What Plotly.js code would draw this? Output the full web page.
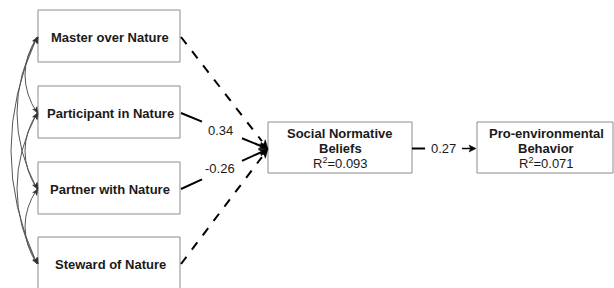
<!DOCTYPE html>
<html><head><meta charset="utf-8">
<script src="https://cdn.plot.ly/plotly-3.0.1.min.js"></script>
<style>html,body{margin:0;padding:0;background:#fff;}#chart{width:614px;height:288px;}</style>
</head><body><div id="chart"></div>
<script>
// ---- data ----
const predictors = ["Master over Nature", "Participant in Nature", "Partner with Nature", "Steward of Nature"];
const predictorCoefs = [null, 0.34, -0.26, null]; // null = non-significant path (dashed)
const mediatorLines = ["Social Normative", "Beliefs"];
const mediatorR2 = 0.093;
const outcomeLines = ["Pro-environmental", "Behavior"];
const outcomeR2 = 0.071;
const mediatorToOutcome = 0.27;

// ---- layout geometry ----
const predX0 = 38, predX1 = 180, predH = 52;
const predTops = [10, 86, 162, 237];
const medBox = {x0: 268, x1: 412, y0: 122, y1: 173};
const outBox = {x0: 477, x1: 613, y0: 122, y1: 173};
const target = {x: 268, y: 149};
const boxLine = {color: "#8c8c8c", width: 1};
const txtColor = "#1a1a1a";
const fontFam = "Liberation Sans, Arial, sans-serif";

const shapes = [];
const annotations = [];

function rect(b) {
  shapes.push({type: "rect", xref: "x", yref: "y", x0: b.x0, x1: b.x1, y0: b.y0, y1: b.y1, line: boxLine, fillcolor: "rgba(0,0,0,0)"});
}
function text(x, y, t, bold, size) {
  annotations.push({x: x, y: y, xref: "x", yref: "y", text: bold ? "<b>" + t + "</b>" : t, showarrow: false,
    font: {family: fontFam, size: size || 13, color: txtColor}, xanchor: "center", yanchor: "middle"});
}
function line(x0, y0, x1, y1, dash, w, color) {
  shapes.push({type: "line", xref: "x", yref: "y", x0: x0, y0: y0, x1: x1, y1: y1,
    line: {color: color || "#000", width: w || 2, dash: dash || "solid"}});
}
function arrowHead(x, y, fromX, fromY, color, L, W) {
  const dx = x - fromX, dy = y - fromY;
  const len = Math.hypot(dx, dy) || 1;
  const ux = dx / len, uy = dy / len, nx = -uy, ny = ux;
  const bx = x - L * ux, by = y - L * uy;
  const p = `M ${x} ${y} L ${bx + W * nx} ${by + W * ny} L ${bx + 0.25 * L * ux} ${by + 0.25 * L * uy} L ${bx - W * nx} ${by - W * ny} Z`;
  shapes.push({type: "path", xref: "x", yref: "y", path: p, fillcolor: color, line: {color: color, width: 0.5}});
}

// predictor boxes
const predMid = predTops.map(t => t + predH / 2);
predictors.forEach((p, i) => {
  rect({x0: predX0, x1: predX1, y0: predTops[i], y1: predTops[i] + predH});
  text((predX0 + predX1) / 2 + 1, predMid[i] + 1, p, true, 13);
});

// mediator and outcome boxes
rect(medBox);
rect(outBox);
const medCx = (medBox.x0 + medBox.x1) / 2, outCx = (outBox.x0 + outBox.x1) / 2;
text(medCx, 133, mediatorLines[0], true, 13);
text(medCx, 148, mediatorLines[1], true, 13);
text(medCx, 163, "R<sup>2</sup>=" + mediatorR2.toFixed(3), false, 13);
text(outCx + 1, 133, outcomeLines[0], true, 13);
text(outCx + 1, 148, outcomeLines[1], true, 13);
text(outCx + 1, 163, "R<sup>2</sup>=" + outcomeR2.toFixed(3), false, 13);

// paths predictors -> mediator
predictorCoefs.forEach((c, i) => {
  const sx = predX1 + 1, sy = predMid[i] + 1;
  const dx = target.x - sx, dy = target.y - sy;
  const px = t => sx + dx * t, py = t => sy + dy * t;
  if (c === null) {
    line(sx, sy, px(0.93), py(0.93), "dash", 2);
  } else {
    const tA = (202 - sx) / dx, tB = (242 - sx) / dx;
    line(sx, sy, px(tA), py(tA), "solid", 2);
    line(px(tB), py(tB), px(0.93), py(0.93), "solid", 2);
    const lbl = c.toFixed(2);
    text(px((tA + tB) / 2) - 2, py((tA + tB) / 2) + (c > 0 ? 1 : -2), lbl, false, 13);
  }
  arrowHead(target.x, target.y, sx, sy, "#000", 9, 3.5);
});

// mediator -> outcome
const my = (medBox.y0 + medBox.y1) / 2 + 1;
line(medBox.x1, my, 425, my, "solid", 2);
text(443, my, mediatorToOutcome.toFixed(2), false, 13);
line(462, my, outBox.x0 - 4, my, "solid", 1.5);
arrowHead(outBox.x0 - 1, my, 462, my, "#000", 7, 3.5);

// correlations among predictors (curved double-headed)
const cx0 = 37;
for (let i = 0; i < 4; i++) {
  for (let j = i + 1; j < 4; j++) {
    const y1 = predMid[i] + 1, y2 = predMid[j] + 1;
    const gap = j - i;
    const minX = gap === 1 ? 25 : gap === 2 ? 17 : 11;
    const ctrlX = 2 * minX - cx0;
    const ctrlY = (y1 + y2) / 2;
    shapes.push({type: "path", xref: "x", yref: "y",
      path: `M ${cx0} ${y1} Q ${ctrlX} ${ctrlY} ${cx0} ${y2}`,
      line: {color: "#555", width: 1}});
    arrowHead(cx0 + 1, y1, ctrlX, ctrlY, "#333", 6, 2.5);
    arrowHead(cx0 + 1, y2, ctrlX, ctrlY, "#333", 6, 2.5);
  }
}

const data = [{x: [0], y: [0], mode: "markers", marker: {opacity: 0}, hoverinfo: "skip", showlegend: false}];
const layout = {
  width: 614, height: 288,
  margin: {l: 0, r: 0, t: 0, b: 0},
  paper_bgcolor: "#fff", plot_bgcolor: "#fff",
  font: {family: fontFam},
  xaxis: {range: [0, 614], visible: false, fixedrange: true},
  yaxis: {range: [288, 0], visible: false, fixedrange: true},
  shapes: shapes, annotations: annotations, showlegend: false
};
Plotly.newPlot("chart", data, layout, {staticPlot: true, displayModeBar: false});
</script>
</body></html>
